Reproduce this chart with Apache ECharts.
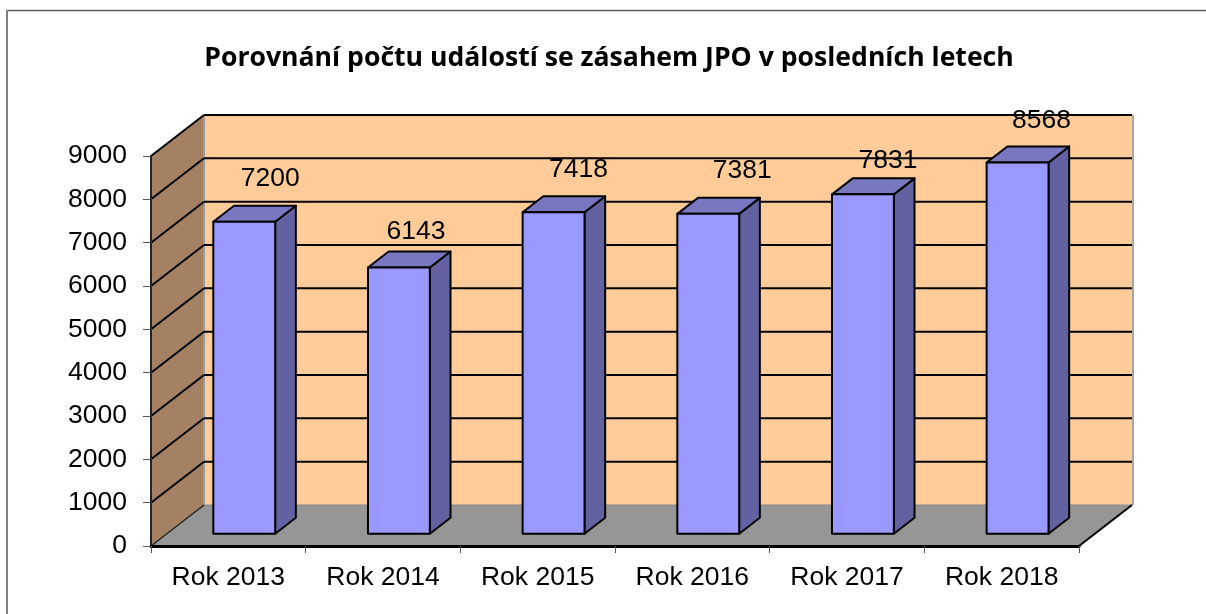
<!DOCTYPE html>
<html>
<head>
<meta charset="utf-8">
<style>html,body{margin:0;padding:0;background:#fff}#c{width:1206px;height:614px}</style>
<script src="https://cdn.jsdelivr.net/npm/echarts@6/dist/echarts.min.js"></script>
</head>
<body>
<div id="c"></div>
<script>
const titleText = 'Porovnání počtu událostí se zásahem JPO v posledních letech';
const categories = ['Rok 2013', 'Rok 2014', 'Rok 2015', 'Rok 2016', 'Rok 2017', 'Rok 2018'];
const values = [7200, 6143, 7418, 7381, 7831, 8568];
const gridValues = [1000, 2000, 3000, 4000, 5000, 6000, 7000, 8000, 9000];

// Hand-placed label offsets of the source chart (px from the bar's centre / back top edge)
const labelShiftX = [26, 17, 25, 34, 25, 24];
const labelShiftY = [27, 20, 27, 27, 18, 26];

// Oblique projection of the fake 3D box
const DEPTH_X = 53, DEPTH_Y = -41;
const BAR_FRONT = 0.3, BAR_BACK = 0.69, BAR_WIDTH = 0.4;
const FONT = '26.5px "Liberation Sans", Arial, sans-serif';
const INK = '#000';

function plotBounds(api) {
  const half = api.size([1, 0])[0] / 2;
  const a = api.coord([0, 0]);
  const b = api.coord([categories.length - 1, 9000]);
  return { l: a[0] - half, r: b[0] + half, bottom: a[1], top: b[1] };
}
function poly(points, fill, stroke, lw) {
  return { type: 'polygon', shape: { points }, style: { fill, stroke: stroke || 'none', lineWidth: lw || 0, lineJoin: 'round' } };
}
function line(x1, y1, x2, y2, stroke, lw) {
  return { type: 'line', shape: { x1, y1, x2, y2 }, style: { stroke, lineWidth: lw } };
}

function renderPlanes(params, api) {
  const p = plotBounds(api);
  const dx = DEPTH_X, dy = DEPTH_Y;
  return { type: 'group', children: [
    poly([[p.l + dx, p.top + dy], [p.r + dx, p.top + dy], [p.r + dx, p.bottom + dy], [p.l + dx, p.bottom + dy]], '#FFCC99'),
    poly([[p.l, p.top], [p.l + dx, p.top + dy], [p.l + dx, p.bottom + dy], [p.l, p.bottom]], '#A58163'),
    poly([[p.l, p.bottom], [p.l + dx, p.bottom + dy], [p.r + dx, p.bottom + dy], [p.r, p.bottom]], '#969696'),
    line(p.l + dx, p.top + dy, p.l + dx, p.bottom + dy, '#9a9a9a', 2),
    line(p.r + dx + 1, p.top + dy, p.r + dx + 1, p.bottom + dy, '#a6a6a6', 2),
    line(p.l + dx, p.bottom + dy, p.r + dx, p.bottom + dy, '#8a8a8a', 1),
    line(p.r, p.bottom, p.r + dx, p.bottom + dy, INK, 2),
    line(p.l, p.bottom, p.l + dx, p.bottom + dy, '#222', 1.5)
  ] };
}
function renderGrid(params, api) {
  const p = plotBounds(api);
  const y = api.coord([0, api.value(0)])[1];
  return { type: 'group', children: [
    line(p.l, y, p.l + DEPTH_X, y + DEPTH_Y, INK, 2),
    line(p.l + DEPTH_X, y + DEPTH_Y, p.r + DEPTH_X, y + DEPTH_Y, INK, 2)
  ] };
}
function renderBar(params, api) {
  const i = api.value(0), v = api.value(1);
  const c = api.size([1, 0])[0];
  const w = c * BAR_WIDTH;
  const top = api.coord([i, v]), base = api.coord([i, 0]);
  const ox = DEPTH_X * BAR_FRONT, oy = DEPTH_Y * BAR_FRONT;
  const sx = DEPTH_X * (BAR_BACK - BAR_FRONT), sy = DEPTH_Y * (BAR_BACK - BAR_FRONT);
  const x0 = top[0] - w / 2 + ox, x1 = x0 + w;
  const yt = top[1] + oy, yb = base[1] + oy;
  return { type: 'group', children: [
    poly([[x1, yt], [x1 + sx, yt + sy], [x1 + sx, yb + sy], [x1, yb]], '#6262A2', INK, 2),
    poly([[x0, yt], [x0 + sx, yt + sy], [x1 + sx, yt + sy], [x1, yt]], '#7878C0', INK, 2),
    poly([[x0, yt], [x1, yt], [x1, yb], [x0, yb]], '#9999FF', INK, 2),
    { type: 'text', style: {
        text: String(v), x: (x0 + x1) / 2 + labelShiftX[i], y: yt + sy - labelShiftY[i],
        font: FONT, fill: INK, align: 'center', verticalAlign: 'middle'
      } }
  ] };
}

const chart = echarts.init(document.getElementById('c'), null, { renderer: 'canvas' });
chart.setOption({
  animation: false,
  backgroundColor: '#fff',
  title: {
    text: titleText, left: 608, top: 40, textAlign: 'center',
    textStyle: { fontFamily: '"Open Sans", sans-serif', fontWeight: 'bold', fontSize: 26.6, color: '#000' }
  },
  grid: { left: 151, right: 127, top: 156, bottom: 68, containLabel: false },
  xAxis: {
    type: 'category', data: categories, z: 3,
    axisLine: { show: true, lineStyle: { color: '#000', width: 3 } },
    axisTick: { show: true, length: 7, alignWithLabel: false, lineStyle: { color: '#555', width: 1 } },
    axisLabel: { interval: 0, margin: 18, hideOverlap: false, color: '#000', fontFamily: '"Liberation Sans", Arial, sans-serif', fontSize: 26.5 },
    splitLine: { show: false }
  },
  yAxis: {
    type: 'value', min: 0, max: 9000, interval: 1000, z: 3,
    axisLine: { show: true, lineStyle: { color: '#222', width: 2 } },
    axisTick: { show: true, length: 8, lineStyle: { color: '#555', width: 1 } },
    axisLabel: { margin: 24, hideOverlap: false, padding: [2, 0, 0, 0], formatter: v => String(v), color: '#000', fontFamily: '"Liberation Sans", Arial, sans-serif', fontSize: 26.5 },
    splitLine: { show: false }
  },
  graphic: [
    { type: 'line', shape: { x1: 6.5, y1: 10.5, x2: 1206, y2: 10.5 }, style: { stroke: '#5f5f5f', lineWidth: 1.5 }, silent: true },
    { type: 'line', shape: { x1: 7, y1: 10, x2: 7, y2: 614 }, style: { stroke: '#808080', lineWidth: 2 }, silent: true }
  ],
  series: [
    { type: 'custom', z: 1, silent: true, renderItem: renderPlanes, data: [[0, 0]], encode: { x: 0, y: 1 } },
    { type: 'custom', z: 2, silent: true, renderItem: renderGrid, data: gridValues.map(v => [v]), encode: { y: 0 } },
    { type: 'custom', z: 4, silent: true, renderItem: renderBar, data: categories.map((c, i) => [i, values[i]]), encode: { x: 0, y: 1 } }
  ]
});
chart.setOption({ title: { left: 604 } });
</script>
</body>
</html>
